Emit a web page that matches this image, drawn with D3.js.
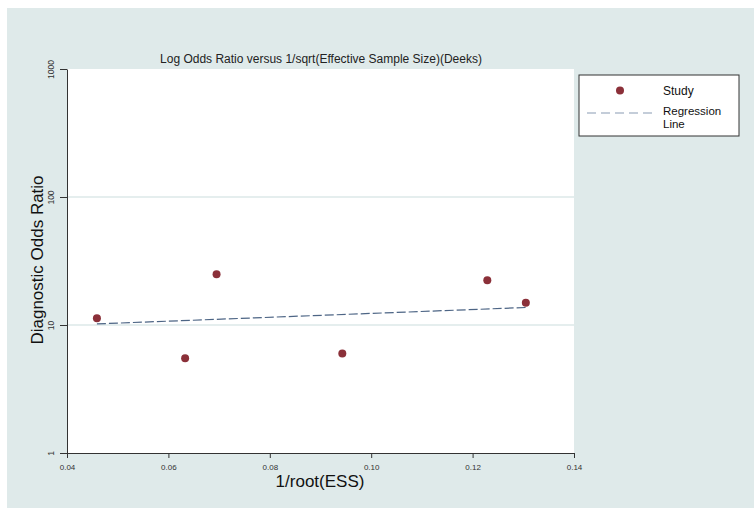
<!DOCTYPE html>
<html><head><meta charset="utf-8">
<script src="https://cdn.jsdelivr.net/npm/d3@7"></script>
<style>body{margin:0;background:#fff}svg{display:block}text{font-family:Arial,"Liberation Sans",sans-serif}</style>
</head><body>
<svg id="c" width="754" height="508"></svg>
<script>
const studyX = [0.0459, 0.0633, 0.0695, 0.0943, 0.1229, 0.1305];
const studyDOR = [11.3, 5.5, 24.9, 6.0, 22.4, 14.9];
const regX = [0.0459, 0.1305];
const regDOR = [10.2, 13.7];
const xTicks = [0.04, 0.06, 0.08, 0.10, 0.12, 0.14];
const yTicks = [1, 10, 100, 1000];

const svg = d3.select("#c");
svg.append("rect").attr("x",7).attr("y",8).attr("width",747).attr("height",500).attr("fill","#dfeaea");

const L=67, R=574, T=69, B=453;
const x = d3.scaleLinear().domain([0.04,0.14]).range([L,R]);
const y = d3.scaleLog().domain([1,1000]).range([B,T]);

svg.append("rect").attr("x",L).attr("y",T).attr("width",R-L).attr("height",B-T).attr("fill","#fff");

// gridlines
svg.append("g").selectAll("line").data([10,100]).join("line")
  .attr("x1",L).attr("x2",R).attr("y1",d=>y(d)).attr("y2",d=>y(d))
  .attr("stroke","#dde8e8").attr("stroke-width",1.5);

// axes
const fmtX = d3.format(".2f");
const gx = svg.append("g").attr("transform",`translate(0,${B})`)
  .call(d3.axisBottom(x).tickValues(xTicks).tickFormat(fmtX).tickSize(5).tickPadding(6).tickSizeOuter(0));
gx.select(".domain").attr("stroke","#333");
gx.selectAll(".tick line").attr("stroke","#333");
gx.selectAll(".tick text").attr("font-size",8).attr("fill","#333").attr("font-family","Arial,'Liberation Sans',sans-serif");

const gy = svg.append("g").attr("transform",`translate(${L},0)`)
  .call(d3.axisLeft(y).tickValues(yTicks).tickFormat(d3.format("d")).tickSize(7).tickSizeOuter(0));
gy.select(".domain").attr("stroke","#333");
gy.selectAll(".tick line").attr("stroke","#333");
gy.selectAll(".tick text").attr("font-size",8.5).attr("fill","#333")
  .attr("font-family","Arial,'Liberation Sans',sans-serif")
  .attr("transform","rotate(-90)").attr("x",0).attr("y",-13).attr("dy","0")
  .attr("text-anchor","middle");

// regression line
svg.append("path").datum(regX.map((d,i)=>[d,regDOR[i]]))
  .attr("d", d3.line().x(d=>x(d[0])).y(d=>y(d[1])))
  .attr("fill","none").attr("stroke","#4d6585").attr("stroke-width",1.2).attr("stroke-dasharray","9,3");

// points
svg.append("g").selectAll("circle").data(studyX.map((d,i)=>[d,studyDOR[i]])).join("circle")
  .attr("cx",d=>x(d[0])).attr("cy",d=>y(d[1])).attr("r",4).attr("fill","#8b3039");

// titles
svg.append("text").attr("x",321).attr("y",63).attr("text-anchor","middle").attr("font-size",12).attr("fill","#222")
  .text("Log Odds Ratio versus 1/sqrt(Effective Sample Size)(Deeks)");
svg.append("text").attr("x",320).attr("y",487).attr("text-anchor","middle").attr("font-size",17).attr("fill","#111")
  .text("1/root(ESS)");
svg.append("text").attr("transform","translate(43,260) rotate(-90)").attr("text-anchor","middle").attr("font-size",17).attr("fill","#111")
  .text("Diagnostic Odds Ratio");

// legend
const lg = svg.append("g");
lg.append("rect").attr("x",579).attr("y",75).attr("width",160).attr("height",61).attr("fill","#fff").attr("stroke","#333").attr("stroke-width",1);
lg.append("circle").attr("cx",620).attr("cy",90.5).attr("r",4).attr("fill","#8b3039");
lg.append("text").attr("x",663).attr("y",94.5).attr("font-size",12).attr("fill","#111").text("Study");
lg.append("line").attr("x1",587).attr("x2",652).attr("y1",113).attr("y2",113).attr("stroke","#8a9bb3").attr("stroke-width",1.2).attr("stroke-dasharray","9,5");
lg.append("text").attr("x",663).attr("y",114.5).attr("font-size",11.5).attr("fill","#111").text("Regression");
lg.append("text").attr("x",663).attr("y",127.5).attr("font-size",11.5).attr("fill","#111").text("Line");
</script>
</body></html>
